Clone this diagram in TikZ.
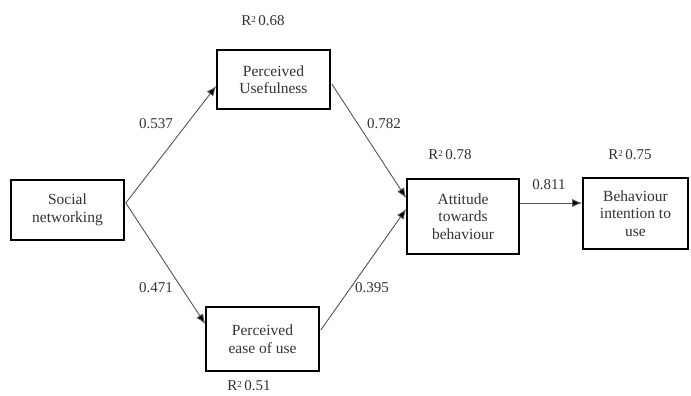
\documentclass[tikz,border=0pt]{standalone}
\usepackage{fontspec}
\setmainfont{Liberation Serif}
\usetikzlibrary{arrows.meta,calc}
\definecolor{txt}{HTML}{333333}
\definecolor{ln}{HTML}{555555}
\tikzset{
  box/.style={draw=black, line width=1.6pt, fill=white, align=center, text=txt,
    font=\fontsize{15.5}{17.5}\selectfont, inner sep=2pt},
  lbl/.style={text=txt, font=\fontsize{15}{17.5}\selectfont, inner sep=0pt},
  conn/.style={draw=ln, line width=0.9pt, -{Latex[length=10pt,width=8pt,fill=black]}}
}
\newcommand{\rsq}[1]{R\raisebox{0.45ex}{\fontsize{9}{9}\selectfont 2}\,#1}
\begin{document}
\begin{tikzpicture}[x=1pt,y=-1pt]
\useasboundingbox (0,0) rectangle (691,396);
\node[box, minimum width=113pt, minimum height=60pt] (sn) at (67.5,210) {Social\\networking};
\node[box, minimum width=113pt, minimum height=59pt] (pu) at (273.5,79.5) {Perceived\\Usefulness};
\node[box, minimum width=113pt, minimum height=64pt] (peou) at (262.5,339) {Perceived\\ease of use};
\node[box, minimum width=112pt, minimum height=75pt] (att) at (463,216.5) {Attitude\\towards\\behaviour};
\node[box, minimum width=105pt, minimum height=71pt] (bi) at (635.5,213.5) {Behaviour\\intention to\\use};

\coordinate (snout) at ($(sn.east)+(1,-7)$);
\coordinate (puin) at ($(pu.west)+(0,6.5)$);
\coordinate (peouin) at ($(peou.west)+(0,-15)$);
\coordinate (puout) at ($(pu.east)+(1,4.5)$);
\coordinate (attin1) at ($(att.west)+(0,-18.5)$);
\coordinate (peouout) at ($(peou.east)+(1,-9)$);
\coordinate (attin2) at ($(att.west)+(0,-7.5)$);
\coordinate (attout) at ($(att.east)+(0,-13.5)$);
\coordinate (biin) at (bi.west |- attout);

\draw[conn] (snout) -- (puin);
\draw[conn] (snout) -- (peouin);
\draw[conn] (puout) -- (attin1);
\draw[conn] (peouout) -- (attin2);
\draw[conn] (attout) -- (biin);

\node[lbl] (r1) at (263,21) {\rsq{0.68}};
\node[lbl] (r2) at (249,386) {\rsq{0.51}};
\node[lbl] (r3) at (450,155) {\rsq{0.78}};
\node[lbl] (r4) at (630,155) {\rsq{0.75}};
\node[lbl] (c1) at (156,124) {0.537};
\node[lbl] (c2) at (156,288) {0.471};
\node[lbl] (c3) at (384,124) {0.782};
\node[lbl] (c4) at (372,288) {0.395};
\node[lbl] (c5) at (549,185) {0.811};
\end{tikzpicture}
\end{document}
